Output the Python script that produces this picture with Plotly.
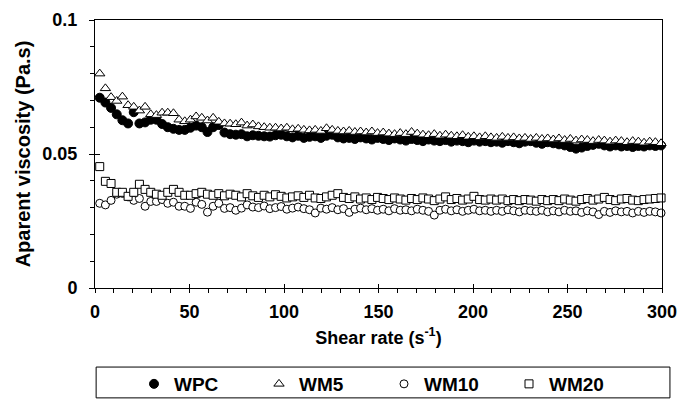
import plotly.graph_objects as go

shear_rate = [2.5, 5.5, 8.5, 11.5, 14.5, 17.5, 20.5, 23.5, 26.5, 29.5,
              32.5, 35.5, 38.5, 41.5, 44.5, 47.5, 50.5, 53.5, 56.5, 59.5,
              62.5, 65.5, 68.5, 71.5, 74.5, 77.5, 80.5, 83.5, 86.5, 89.5,
              92.5, 95.5, 98.5, 101.5, 104.5, 107.5, 110.5, 113.5, 116.5, 119.5,
              122.5, 125.5, 128.5, 131.5, 134.5, 137.5, 140.5, 143.5, 146.5, 149.5,
              152.5, 155.5, 158.5, 161.5, 164.5, 167.5, 170.5, 173.5, 176.5, 179.5,
              182.5, 185.5, 188.5, 191.5, 194.5, 197.5, 200.5, 203.5, 206.5, 209.5,
              212.5, 215.5, 218.5, 221.5, 224.5, 227.5, 230.5, 233.5, 236.5, 239.5,
              242.5, 245.5, 248.5, 251.5, 254.5, 257.5, 260.5, 263.5, 266.5, 269.5,
              272.5, 275.5, 278.5, 281.5, 284.5, 287.5, 290.5, 293.5, 296.5, 299.5]

wpc = [0.0710, 0.0692, 0.0672, 0.0648, 0.0626, 0.0614, 0.0656, 0.0614, 0.0618, 0.0628,
       0.0628, 0.0612, 0.0600, 0.0594, 0.0590, 0.0590, 0.0598, 0.0606, 0.0600, 0.0582,
       0.0600, 0.0608, 0.0580, 0.0574, 0.0572, 0.0574, 0.0566, 0.0570, 0.0568, 0.0566,
       0.0565, 0.0570, 0.0572, 0.0566, 0.0562, 0.0568, 0.0560, 0.0564, 0.0566, 0.0560,
       0.0568, 0.0572, 0.0562, 0.0558, 0.0560, 0.0556, 0.0562, 0.0558, 0.0554, 0.0560,
       0.0556, 0.0552, 0.0558, 0.0554, 0.0550, 0.0556, 0.0552, 0.0548, 0.0554, 0.0550,
       0.0548, 0.0552, 0.0546, 0.0550, 0.0548, 0.0544, 0.0550, 0.0546, 0.0548, 0.0544,
       0.0546, 0.0542, 0.0548, 0.0544, 0.0540, 0.0546, 0.0548, 0.0542, 0.0538, 0.0544,
       0.0540, 0.0536, 0.0532, 0.0526, 0.0520, 0.0524, 0.0530, 0.0534, 0.0538, 0.0532,
       0.0528, 0.0532, 0.0528, 0.0530, 0.0526, 0.0530, 0.0528, 0.0532, 0.0530, 0.0532]

wm5 = [0.0800, 0.0745, 0.0712, 0.0698, 0.0714, 0.0682, 0.0676, 0.0662, 0.0676, 0.0648,
       0.0645, 0.0654, 0.0654, 0.0652, 0.0628, 0.0622, 0.0628, 0.0640, 0.0635, 0.0625,
       0.0635, 0.0620, 0.0614, 0.0613, 0.0611, 0.0617, 0.0606, 0.0610, 0.0603, 0.0600,
       0.0598, 0.0598, 0.0595, 0.0598, 0.0592, 0.0594, 0.0590, 0.0588, 0.0590, 0.0586,
       0.0596, 0.0590, 0.0586, 0.0584, 0.0586, 0.0582, 0.0584, 0.0580, 0.0584, 0.0578,
       0.0580, 0.0576, 0.0574, 0.0578, 0.0574, 0.0582, 0.0576, 0.0572, 0.0570, 0.0574,
       0.0568, 0.0572, 0.0568, 0.0566, 0.0570, 0.0564, 0.0566, 0.0562, 0.0566, 0.0562,
       0.0560, 0.0564, 0.0560, 0.0562, 0.0558, 0.0560, 0.0556, 0.0560, 0.0556, 0.0558,
       0.0554, 0.0558, 0.0552, 0.0556, 0.0550, 0.0554, 0.0552, 0.0548, 0.0552, 0.0550,
       0.0546, 0.0550, 0.0548, 0.0544, 0.0548, 0.0546, 0.0542, 0.0546, 0.0544, 0.0540]

wm10 = [0.0316, 0.0310, 0.0327, 0.0350, 0.0353, 0.0340, 0.0327, 0.0334, 0.0305, 0.0323,
        0.0323, 0.0330, 0.0316, 0.0320, 0.0305, 0.0305, 0.0297, 0.0320, 0.0312, 0.0283,
        0.0305, 0.0316, 0.0297, 0.0300, 0.0290, 0.0298, 0.0310, 0.0302, 0.0300, 0.0306,
        0.0296, 0.0300, 0.0304, 0.0294, 0.0298, 0.0302, 0.0296, 0.0292, 0.0280, 0.0298,
        0.0294, 0.0300, 0.0292, 0.0296, 0.0282, 0.0294, 0.0298, 0.0292, 0.0296, 0.0290,
        0.0294, 0.0288, 0.0296, 0.0290, 0.0292, 0.0288, 0.0294, 0.0290, 0.0286, 0.0272,
        0.0290, 0.0294, 0.0288, 0.0292, 0.0286, 0.0290, 0.0294, 0.0288, 0.0290, 0.0286,
        0.0290, 0.0286, 0.0292, 0.0288, 0.0284, 0.0290, 0.0288, 0.0286, 0.0290, 0.0284,
        0.0288, 0.0284, 0.0290, 0.0286, 0.0288, 0.0282, 0.0288, 0.0284, 0.0274, 0.0286,
        0.0282, 0.0288, 0.0284, 0.0286, 0.0280, 0.0286, 0.0282, 0.0286, 0.0284, 0.0280]

wm20 = [0.0453, 0.0398, 0.0390, 0.0357, 0.0357, 0.0342, 0.0357, 0.0387, 0.0368, 0.0357,
        0.0350, 0.0346, 0.0357, 0.0368, 0.0357, 0.0346, 0.0346, 0.0352, 0.0357, 0.0350,
        0.0346, 0.0352, 0.0344, 0.0350, 0.0346, 0.0340, 0.0352, 0.0344, 0.0338, 0.0346,
        0.0340, 0.0348, 0.0342, 0.0336, 0.0340, 0.0344, 0.0338, 0.0346, 0.0336, 0.0334,
        0.0340, 0.0346, 0.0352, 0.0338, 0.0334, 0.0340, 0.0332, 0.0336, 0.0330, 0.0338,
        0.0334, 0.0330, 0.0336, 0.0332, 0.0328, 0.0334, 0.0330, 0.0336, 0.0332, 0.0326,
        0.0332, 0.0340, 0.0330, 0.0334, 0.0328, 0.0332, 0.0342, 0.0330, 0.0328, 0.0332,
        0.0328, 0.0332, 0.0326, 0.0330, 0.0326, 0.0330, 0.0328, 0.0324, 0.0330, 0.0326,
        0.0330, 0.0326, 0.0332, 0.0328, 0.0324, 0.0330, 0.0334, 0.0328, 0.0332, 0.0338,
        0.0330, 0.0326, 0.0332, 0.0334, 0.0328, 0.0326, 0.0330, 0.0332, 0.0334, 0.0336]

series_names = ["WPC", "WM5", "WM10", "WM20"]
x_ticks = [0, 50, 100, 150, 200, 250, 300]
y_ticks = [0, 0.05, 0.1]
y_tick_labels = ["0", "0.05", "0.1"]

FONT = "Liberation Sans, Arial, sans-serif"

styles = [
    dict(symbol="circle", size=9, color="black", line=dict(color="black", width=1)),
    dict(symbol="triangle-up", size=9, color="white", line=dict(color="black", width=1)),
    dict(symbol="circle", size=8, color="white", line=dict(color="black", width=1)),
    dict(symbol="square", size=8, color="white", line=dict(color="black", width=1)),
]

fig = go.Figure()
for name, vals, st in zip(series_names, [wpc, wm5, wm10, wm20], styles):
    fig.add_trace(go.Scatter(x=shear_rate, y=vals, mode="markers", name=name,
                             marker=st, cliponaxis=False))

# empty helper trace carrying the overlay axes (inner half of crossing major ticks)
fig.add_trace(go.Scatter(x=[], y=[], xaxis="x2", yaxis="y2", showlegend=False))

tickfont = dict(family=FONT, size=18, color="black", weight="bold")

fig.update_layout(
    width=683, height=399,
    margin=dict(l=95, r=21, t=20, b=111),
    paper_bgcolor="white", plot_bgcolor="white",
    font=dict(family=FONT, color="black"),
    xaxis=dict(range=[0, 300], tickvals=x_ticks, ticks="outside", ticklen=4,
               tickwidth=1, tickcolor="black", showline=True, linecolor="black",
               linewidth=1, mirror=True, showgrid=False, zeroline=False,
               tickfont=tickfont, ticklabelstandoff=3, automargin=False,
               minor=dict(dtick=10, ticks="outside", ticklen=4, tickcolor="black", showgrid=False),
               title=dict(text="Shear rate (s<sup>-1</sup>)", standoff=10,
                          font=dict(family=FONT, size=18, color="black", weight="bold"))),
    yaxis=dict(range=[0, 0.1], tickvals=y_ticks, ticktext=y_tick_labels, ticks="outside",
               ticklen=5, tickwidth=1, tickcolor="black", showline=True, linecolor="black",
               linewidth=1, mirror=True, showgrid=False, zeroline=False,
               tickfont=tickfont, ticklabelstandoff=8, automargin=False,
               minor=dict(dtick=0.01, ticks="outside", ticklen=4, tickcolor="black", showgrid=False),
               title=dict(text="Aparent viscosity (Pa.s)", standoff=6,
                          font=dict(family=FONT, size=20, color="black", weight="bold"))),
    xaxis2=dict(range=[0, 300], overlaying="x", anchor="y", side="bottom",
                tickvals=x_ticks, ticks="inside", ticklen=4, tickcolor="black",
                showticklabels=False, showgrid=False, zeroline=False, showline=False),
    yaxis2=dict(range=[0, 0.1], overlaying="y", anchor="x", side="left",
                tickvals=y_ticks, ticks="inside", ticklen=5, tickcolor="black",
                showticklabels=False, showgrid=False, zeroline=False, showline=False),
    legend=dict(orientation="h", xref="container", yref="container",
                x=134 / 683, xanchor="left", y=1 - 384 / 399, yanchor="middle",
                font=dict(family=FONT, size=19, color="black", weight="bold"),
                bgcolor="rgba(0,0,0,0)", borderwidth=0,
                entrywidth=80, entrywidthmode="pixels", itemclick=False),
    shapes=[dict(type="rect", xref="paper", yref="paper", x0=0.002, x1=1.014,
                 y0=-0.41, y1=-0.295, line=dict(color="black", width=1),
                 fillcolor="rgba(0,0,0,0)")],
)

fig.write_html("out.html")
